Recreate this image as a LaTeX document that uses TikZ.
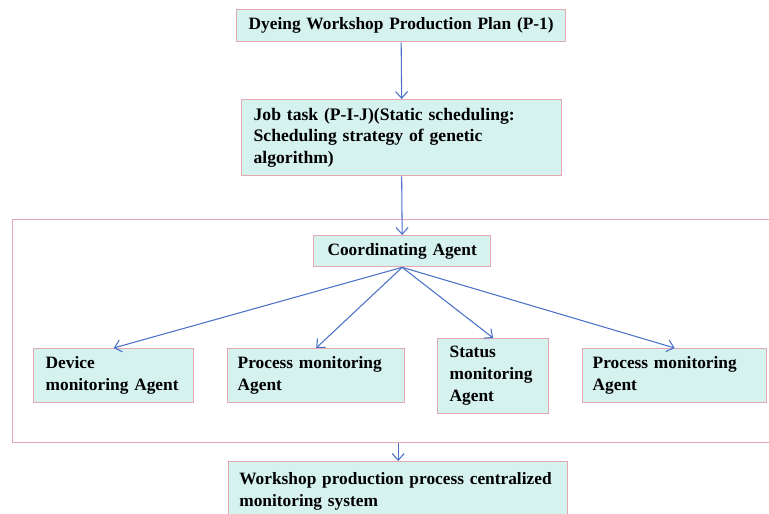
\documentclass[tikz,border=0pt]{standalone}
\usepackage{fontspec}
\setmainfont{Liberation Serif}
\usetikzlibrary{arrows.meta}
\definecolor{boxfill}{HTML}{D5F2EE}
\definecolor{boxline}{HTML}{E6A8B0}
\definecolor{arrowc}{HTML}{4A72C8}
\begin{document}
\begin{tikzpicture}[x=0.75pt,y=-0.75pt,
  box/.style={draw=boxline, fill=boxfill, line width=1pt, anchor=north west,
    font=\fontsize{13}{16.5}\selectfont\bfseries, inner ysep=0pt, align=left},
  frm/.style={draw=boxline, line width=1pt, anchor=north west, inner sep=0pt},
  arr/.style={draw=arrowc, line width=0.8pt, -{Straight Barb[length=5pt,width=9pt]}}]
\useasboundingbox (0,0) rectangle (769,514);
\node[frm, minimum width=763*0.75pt, minimum height=223*0.75pt] (frame) at (12,219) {};
\node[box, align=center, inner xsep=0pt, minimum width=329*0.75pt, minimum height=32*0.75pt, text width=329*0.75pt] (plan) at (236,9) {Dyeing Workshop Production Plan (P-1)};
\node[box, font=\fontsize{13.2}{16}\selectfont\bfseries, inner xsep=9pt, minimum width=320*0.75pt, minimum height=76*0.75pt, text width=300*0.75pt-3pt] (job) at (241,99) {Job task (P-I-J)(Static scheduling:\\Scheduling strategy of genetic\\algorithm)};
\node[box, align=center, inner xsep=0pt, minimum width=177*0.75pt, minimum height=31*0.75pt, text width=177*0.75pt] (coord) at (313,235) {Coordinating Agent};
\node[box, inner xsep=9pt, minimum width=160*0.75pt, minimum height=54*0.75pt, text width=160*0.75pt-18pt] (dev) at (33,348) {Device\\monitoring Agent};
\node[box, inner xsep=7.5pt, minimum width=177*0.75pt, minimum height=54*0.75pt, text width=177*0.75pt-15pt] (proc1) at (227,348) {Process monitoring\\Agent};
\node[box, inner xsep=9pt, minimum width=111*0.75pt, minimum height=75*0.75pt, text width=111*0.75pt-18pt] (stat) at (437,338) {Status\\monitoring\\Agent};
\node[box, inner xsep=7.5pt, minimum width=184*0.75pt, minimum height=54*0.75pt, text width=184*0.75pt-15pt] (proc2) at (582,348) {Process monitoring\\Agent};
\node[box, inner xsep=8pt, minimum width=339*0.75pt, minimum height=60*0.75pt, text width=339*0.75pt-16pt] (sys) at (228,461) {Workshop production process centralized\\monitoring system};
\draw[arr] (plan.south) -- (job.north);
\draw[arr] (job.south) -- (coord.north);
\draw[arr] (coord.south) -- (dev.north);
\draw[arr] (coord.south) -- (proc1.north);
\draw[arr] (coord.south) -- (stat.north);
\draw[arr] (coord.south) -- (proc2.north);
\draw[arr] (frame.south -| sys.north) -- (sys.north);
\end{tikzpicture}
\end{document}
